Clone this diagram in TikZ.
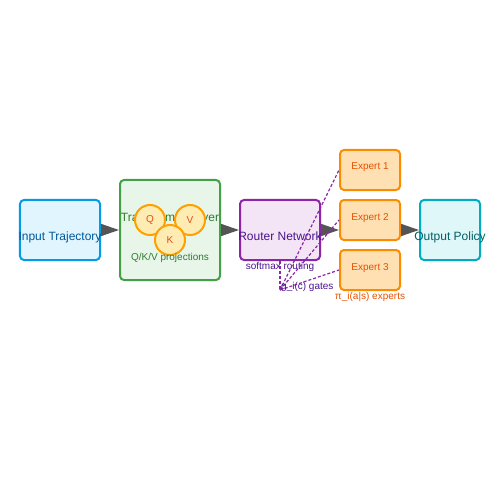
\documentclass[tikz,border=0pt]{standalone}
\usepackage{fontspec}
\setmainfont{Liberation Sans}
\usetikzlibrary{arrows.meta}
\definecolor{inline}{HTML}{039BE5}
\definecolor{infill}{HTML}{E1F5FE}
\definecolor{intext}{HTML}{01579B}
\definecolor{trline}{HTML}{43A047}
\definecolor{trfill}{HTML}{E8F5E9}
\definecolor{trtext}{HTML}{2E7D32}
\definecolor{rtline}{HTML}{8E24AA}
\definecolor{rtfill}{HTML}{F3E5F5}
\definecolor{rttext}{HTML}{4A148C}
\definecolor{exline}{HTML}{FB8C00}
\definecolor{exfill}{HTML}{FFE0B2}
\definecolor{extext}{HTML}{E65100}
\definecolor{qkvline}{HTML}{FFA000}
\definecolor{qkvfill}{HTML}{FFECB3}
\definecolor{qkvtext}{HTML}{E64A19}
\definecolor{outline}{HTML}{00ACC1}
\definecolor{outfill}{HTML}{E0F7FA}
\definecolor{outtext}{HTML}{006064}
\definecolor{flowgray}{HTML}{555555}
\tikzset{%
    blk/.style={draw, line width=2bp, rounded corners=4bp, inner sep=0pt},%
    qkv/.style={circle, draw=qkvline, fill=qkvfill, line width=2bp, minimum size=30bp, inner sep=0pt, text=qkvtext, font=\fontsize{10bp}{12bp}\selectfont},%
    flow/.style={draw=flowgray, line width=1.5bp, -{Triangle[length=18bp,width=12bp]}},%
    gate/.style={draw=rtline, line width=1.2bp, dash pattern=on 3bp off 2bp},%
    bigtxt/.style={anchor=base, inner sep=0pt, font=\fontsize{12bp}{14bp}\selectfont},%
    smalltxt/.style={anchor=base, inner sep=0pt, font=\fontsize{10bp}{12bp}\selectfont},%
}
\begin{document}
\begin{tikzpicture}[x=1bp,y=-1bp]%
    \useasboundingbox (0,0) rectangle (500,500);%
    % blocks
    \node[blk, draw=inline, fill=infill, minimum width=80bp, minimum height=60bp] (input) at (60,230) {};%
    \node[bigtxt, text=intext] (inputlbl) at (60,240) {Input Trajectory};%
    \node[blk, draw=trline, fill=trfill, minimum width=100bp, minimum height=100bp] (trans) at (170,230) {};%
    \node[bigtxt, text=trtext] (translbl) at (170,221) {Transformer Layer};%
    \node[qkv] (q) at (150,220) {Q};%
    \node[qkv] (v) at (190,220) {V};%
    \node[qkv] (k) at (170,240) {K};%
    \node[smalltxt, text=trtext] (projlbl) at (170,260) {Q/K/V projections};%
    \node[blk, draw=rtline, fill=rtfill, minimum width=80bp, minimum height=60bp] (router) at (280,230) {};%
    \node[bigtxt, text=rttext] (routerlbl) at (280,240) {Router Network};%
    \node[smalltxt, text=rttext] (softlbl) at (280,269) {softmax routing};%
    \foreach \i/\y in {1/170,2/220,3/270} {%
        \node[blk, draw=exline, fill=exfill, minimum width=60bp, minimum height=40bp] (e\i) at (370,\y) {};%
        \node[smalltxt, text=extext] (e\i lbl) at (370,\y) {Expert \i};%
    }%
    \node[smalltxt, text=extext] (pilbl) at (370,299) {π\_i(a|s) experts};%
    \node[blk, draw=outline, fill=outfill, minimum width=60bp, minimum height=60bp] (output) at (450,230) {};%
    \node[bigtxt, text=outtext] (outputlbl) at (450,240) {Output Policy};%
    % main flow
    \draw[flow] (input.east) -- (trans.west);%
    \draw[flow] (trans.east) -- (router.west);%
    \draw[flow] (router.east) -- (router.east -| e2.west);%
    \draw[flow] (e2.east |- output.west) -- (output.west);%
    % gating
    \coordinate (g) at (280,290);%
    \draw[gate] (router.south) -- (g);%
    \foreach \i in {1,2,3} \draw[gate] (g) -- (e\i.west);%
    \node[smalltxt, text=rttext, anchor=base west] (gatelbl) at (281,289) {g\_i(c) gates};%
\end{tikzpicture}
\end{document}
